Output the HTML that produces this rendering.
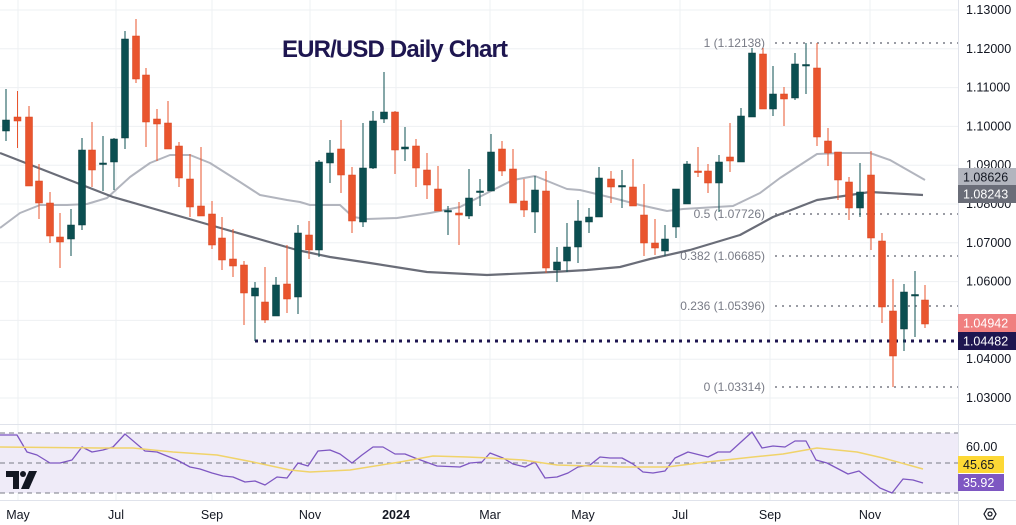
<!DOCTYPE html>
<html><head><meta charset="utf-8"><style>
html,body{margin:0;padding:0;background:#fff;}
svg{display:block;font-family:"Liberation Sans",sans-serif;}
</style></head><body>
<svg id="s" width="1016" height="525" viewBox="0 0 1016 525" xmlns="http://www.w3.org/2000/svg">
<rect width="1016" height="525" fill="#fff"/>
<g id="grid"></g>
<rect x="0" y="433" width="958" height="60" fill="#efebf8"/>
<g id="main"></g>
<text x="282" y="57" font-size="24" font-weight="bold" fill="#1e1650" textLength="226">EUR/USD Daily Chart</text>
</svg>
<script>
const NS="http://www.w3.org/2000/svg";
const s=document.getElementById('s'),g=document.getElementById('grid'),m=document.getElementById('main');
function el(p,tag,a,txt){const e=document.createElementNS(NS,tag);for(const k in a)e.setAttribute(k,a[k]);if(txt!==undefined)e.textContent=txt;p.appendChild(e);return e;}
const Y=p=>10+(1.13-p)*3880;
// grid horizontals
for(let i=0;i<=10;i++){const p=1.13-i*0.01,y=Y(p);el(g,'line',{x1:0,x2:958,y1:y,y2:y,stroke:'#eef0f3','stroke-width':1});}
[18,116,212,310,396,490,583,680,770,870].forEach(x=>{el(g,'line',{x1:x,x2:x,y1:0,y2:500,stroke:'#eef0f3','stroke-width':1});});
el(g,'line',{x1:958.5,x2:958.5,y1:0,y2:525,stroke:'#e0e3eb'});
el(g,'line',{x1:0,x2:1016,y1:424.5,y2:424.5,stroke:'#e0e3eb'});
el(g,'line',{x1:0,x2:1016,y1:500.5,y2:500.5,stroke:'#e0e3eb'});
// RSI dashed
[433,463,493].forEach(y=>el(m,'line',{x1:0,x2:958,y1:y,y2:y,stroke:'#787b86','stroke-dasharray':'5,4','stroke-width':1}));
// fib lines
[[43,'1 (1.12138)'],[214,'0.5 (1.07726)'],[256,'0.382 (1.06685)'],[306,'0.236 (1.05396)'],[387,'0 (1.03314)']].forEach(([y,t])=>{
 el(m,'line',{x1:775,x2:958,y1:y,y2:y,stroke:'#787b86','stroke-dasharray':'2,5','stroke-width':1.5});
 el(m,'text',{x:765,y:y+4,'font-size':12,fill:'#787b86','text-anchor':'end'},t);
});
el(m,'line',{x1:255,x2:958,y1:341,y2:341,stroke:'#1e1650','stroke-dasharray':'3,5','stroke-width':3});
// MAs
function poly(pts,c,w){el(m,'polyline',{points:pts.map(p=>p.join(',')).join(' '),fill:'none',stroke:c,'stroke-width':w,'stroke-linejoin':'round'});}
poly([[0,228],[20,213],[40,205],[67,205],[87,204],[107,198],[130,177],[150,163],[170,155],[190,155],[210,163],[240,182],[260,195],[287,200],[300,202],[310,205],[340,205],[353,217],[367,219],[397,218],[430,213],[460,207],[493,190],[513,180],[535,176],[567,189],[580,190],[613,198],[640,205],[667,211],[683,209],[733,206],[760,193],[780,178],[817,154],[840,153],[870,153],[890,160],[925,180]],'#b2b5be',2);
poly([[0,153],[113,197],[217,227],[297,250],[330,257],[370,263],[427,272],[487,275],[553,272],[587,270],[620,267],[650,259],[690,250],[740,235],[773,217],[817,200],[870,192],[923,195]],'#6a6d78',2.2);
// candles: x, open, close, high, low (pixel y). green if close<open (y)
const C=[
[6,131,120,89,141],[17.5,117,121,91,148],[29,117,186,106,186],[39,181,203,164,219],[50,203,236,192,243],[60,237,242,213,268],[71,239,225,209,256],[82,225,150,138,230],[92,150,170,122,187],[103,164,163,136,191],[114,162,139,138,190],[125,138,39,31,149],[136,36,79,19,83],[146,75,122,68,147],[157,119,124,109,161],[168,123,149,101,149],[179,146,178,142,187],[190,179,207,154,217],[201,206,216,147,216],[212,214,245,201,249],[222,238,260,217,270],[233,259,266,229,277],[244,265,293,261,325],[255,296,288,282,341],[265,302,320,267,323],[276,316,285,277,316],[287,284,299,245,313],[298,297,233,225,314],[309,235,250,221,259],[319,250,162,160,257],
[330,163,153,140,183],[341,149,175,120,193],[352,175,221,167,233],[363,222,168,123,227],[373,168,121,111,169],[384,119,112,72,123],[395,112,150,111,174],[405,149,147,127,161],[416,146,168,139,187],[427,170,185,153,199],[438,189,211,166,211],[448,211.5,210.5,206,235],[459,213,215,202,245],[469,216,198,169,219],[480,192,191,179,206],[491,191,152,134,191],[502,149,171,141,176],[513,169,203,149,203],[524,201,210,179,217],[535,212,190,176,233],[546,191,268,171,273],[557,270,262,247,282],[567,261,247,223,272],[578,247,221,200,263],[589,222,217,208,233],[599,217,178,167,217],[611,179,187,171,203],[622,186.5,185.5,170,208],[633,187,206,159,206],[644,215,243,184,256],
[655,243,248,219,255],[665,251,239,225,256],[676,227,189,189,238],[687,204,164,161,204],[698,171,172.5,147,177],[708,171,183,164,193],[719,183,162,155,212],[730,157,161,123,172],[741,162,116,108,162],[752,117,53,48,117],[763,54,109,48,109],[773,109,94,66,116],[784,94,99,87,126],[795,98,64,53,100],[806,65.5,64.5,43,94],[817,68,137,43,146],[828,141,153,128,166],[838,152,180,152,200],[849,182,208,177,220],[860,208,192,163,217],[871,175,238,151,250],[882,241,307,233,323],[893,311,356,279,387],[904,329,292,284,351],[915,295.5,294.5,271,337],[925,300,324,285,328]];
const GR='#0b4f51',RD='#e9552e';
C.forEach(([x,o,c,h,l])=>{const up=c<=o,col=up?GR:RD;
 el(m,'line',{x1:x,x2:x,y1:h,y2:l,stroke:col,'stroke-width':1});
 const t=Math.min(o,c),b=Math.max(o,c);el(m,'rect',{x:x-3.5,y:t,width:7,height:Math.max(b-t,1.5),fill:col,stroke:up?'#0b3f41':'#d8451e','stroke-width':0.5});});
// RSI
poly([[0,435],[17,435],[27,452],[37,455],[50,463],[60,463],[72,460],[82,447],[92,452],[103,450],[113,447],[125,434],[145,451],[157,452],[177,460],[190,467],[200,469],[212,473],[223,476],[233,477],[245,482],[255,481],[265,485],[277,477],[287,478],[298,463],[308,466],[318,451],[330,450],[340,454],[352,463],[362,455],[373,447],[383,447],[395,454],[405,454],[415,458],[437,466],[460,467],[470,463],[482,462],[490,453],[503,458],[513,464],[525,467],[535,462],[545,478],[557,477],[568,473],[578,467],[590,465],[600,457],[610,458],[622,458],[633,464],[643,472],[653,473],[665,471],[675,458],[688,452],[708,457],[718,452],[730,452],[752,432],[762,448],[773,446],[785,447],[795,441],[806,441],[816,460],[827,463],[848,474],[859,471],[880,488],[892,493],[903,479],[913,480],[923,483]],'#7e57c2',1.3);
poly([[0,447],[100,448],[133,448],[173,452],[217,455],[253,462],[290,470],[310,472],[350,470],[400,462],[433,456],[467,457],[490,458],[523,460],[557,465],[623,467],[667,467],[707,462],[753,457],[783,454],[817,448],[857,452],[883,458],[923,469]],'#f0d36a',1.5);
// axis labels
for(let i=0;i<=10;i++){const p=1.13-i*0.01;el(m,'text',{x:966,y:Y(p)+4,'font-size':12.5,fill:'#131722'},p.toFixed(5));}
function tag(y,bg,fg,t){el(m,'rect',{x:958,y:y-9,width:58,height:18,fill:bg});el(m,'text',{x:963,y:y+4.5,'font-size':12.5,fill:fg},t);}
tag(177,'#b2b5be','#131722','1.08626');tag(194,'#6a6d78','#fff','1.08243');
tag(323,'#f07f7f','#fff','1.04942');tag(341,'#1e1650','#fff','1.04482');
el(m,'text',{x:966,y:451,'font-size':12.5,fill:'#131722'},'60.00');
el(m,'rect',{x:958,y:456,width:46,height:17,fill:'#fdd835'});el(m,'text',{x:963,y:469,'font-size':12.5,fill:'#131722'},'45.65');
el(m,'rect',{x:958,y:474,width:46,height:17,fill:'#7e57c2'});el(m,'text',{x:963,y:487,'font-size':12.5,fill:'#fff'},'35.92');
[[18,'May'],[116,'Jul'],[212,'Sep'],[310,'Nov'],[396,'2024'],[490,'Mar'],[583,'May'],[680,'Jul'],[770,'Sep'],[870,'Nov']].forEach(([x,t])=>{
 el(m,'text',{x:x,y:519,'font-size':12.5,fill:'#131722','text-anchor':'middle','font-weight':t=='2024'?'bold':'normal'},t);});
// TV logo
el(m,'path',{d:'M6,471 h13 v18 h-6 v-12 h-7z',fill:'#131722'});
el(m,'circle',{cx:23,cy:474,r:3,fill:'#131722'});
el(m,'path',{d:'M29,471 h8 l-8,18 h-8z',fill:'#131722'});
// settings icon
el(m,'polygon',{points:'984,514 987,508.8 993,508.8 996,514 993,519.2 987,519.2',fill:'none',stroke:'#131722','stroke-width':1.2});
el(m,'circle',{cx:990,cy:514,r:2,fill:'none',stroke:'#131722','stroke-width':1.2});
</script>
</body></html>
